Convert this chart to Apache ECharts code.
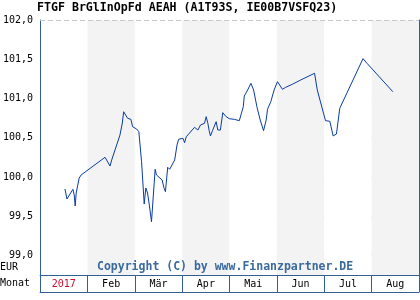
<!DOCTYPE html>
<html><head><meta charset="utf-8">
<script src="https://cdn.jsdelivr.net/npm/echarts@6/dist/echarts.min.js"></script>
<style>html,body{margin:0;padding:0;background:#fff}#c{width:420px;height:300px}</style>
</head><body><div id="c"></div>
<script>
const titleText = 'FTGF BrGlInOpFd AEAH (A1T93S, IE00B7VSFQ23)';
const months = ['2017','Feb','Mär','Apr','Mai','Jun','Jul','Aug'];
const yTicks = [99.0, 99.5, 100.0, 100.5, 101.0, 101.5, 102.0];
const monthPos = [0.525,0.567,0.693,0.720,0.741,0.762,0.825,0.867,1.371,1.476,1.512,1.686,1.736,1.764,1.791,1.848,1.917,1.953,1.988,2.037,2.085,2.142,2.198,2.232,2.268,2.303,2.352,2.394,2.429,2.457,2.576,2.618,2.646,2.694,2.736,2.841,2.891,2.925,3.017,3.051,3.087,3.261,3.297,3.332,3.387,3.471,3.507,3.542,3.570,3.597,3.639,3.717,3.752,3.807,3.857,3.927,3.996,4.101,4.206,4.241,4.290,4.311,4.382,4.451,4.472,4.508,4.577,4.647,4.718,4.773,4.802,4.871,4.941,5.012,5.046,5.117,5.186,5.327,5.501,5.795,5.852,6.026,6.117,6.188,6.257,6.327,6.818,6.902,7.448];
const values = [99.846,99.719,99.842,99.770,99.629,99.795,99.986,100.025,100.250,100.139,100.216,100.534,100.687,100.831,100.815,100.747,100.734,100.640,100.649,100.611,100.576,100.194,99.655,99.859,99.795,99.655,99.429,99.795,100.097,100.025,99.961,99.855,99.812,100.123,100.097,100.216,100.407,100.480,100.492,100.436,100.513,100.632,100.649,100.598,100.662,100.683,100.768,100.683,100.589,100.522,100.589,100.704,100.598,100.598,100.819,100.768,100.742,100.734,100.717,100.734,100.895,101.031,101.108,101.193,101.201,101.108,100.895,100.726,100.589,100.726,100.862,100.959,101.108,101.214,101.193,101.117,101.142,101.181,101.235,101.321,101.108,100.717,100.709,100.522,100.547,100.875,101.507,101.448,101.086];

const axisColor = '#2f5f99';
const gridColor = '#c8c8c8';
const mono = '"DejaVu Sans Mono", monospace';
const data = monthPos.map((x, i) => [x, values[i]]);

const chart = echarts.init(document.getElementById('c'), null, {renderer: 'canvas'});
chart.setOption({
  animation: false,
  backgroundColor: '#fff',
  grid: {left: 37, right: 1, top: 20, bottom: 25, containLabel: false},
  xAxis: [
    {type: 'category', data: months, boundaryGap: true, position: 'bottom',
     axisLine: {show: true, lineStyle: {color: axisColor, width: 1}},
     axisTick: {show: true, interval: 0, length: 17, lineStyle: {color: axisColor, width: 1}},
     axisLabel: {interval: 0, margin: 4, fontFamily: mono, fontSize: 10,
       color: (v, i) => (i === 0 ? '#c8102e' : '#000')},
     splitLine: {show: false},
     splitArea: {show: true, interval: 0, areaStyle: {color: ['#ffffff', '#f3f3f3']}}},
    {type: 'value', min: 0, max: 8, show: false},
    {type: 'category', data: months, position: 'bottom', offset: 17,
     axisLine: {show: true, lineStyle: {color: axisColor, width: 1}},
     axisTick: {show: false}, axisLabel: {show: false}, splitLine: {show: false}}
  ],
  yAxis: [
    {type: 'value', min: 98.75, max: 102, interval: 0.25,
     axisLine: {show: true, lineStyle: {color: axisColor, width: 1}},
     axisTick: {show: false},
     axisLabel: {margin: 7, fontFamily: mono, fontSize: 10, color: '#000',
       formatter: v => (yTicks.some(t => Math.abs(t - v) < 1e-6) ? v.toFixed(1).replace('.', ',') : '')},
     splitLine: {show: true, showMinLine: true, showMaxLine: true,
       lineStyle: {type: [5, 3], color: ['rgba(0,0,0,0)', gridColor], width: 1}}},
    {type: 'value', min: 98.75, max: 102, position: 'right',
     axisLine: {show: true, lineStyle: {color: axisColor, width: 1}},
     axisTick: {show: false}, axisLabel: {show: false}, splitLine: {show: false}}
  ],
  series: [{
    type: 'line', xAxisIndex: 1, yAxisIndex: 0, data: data,
    showSymbol: false, symbol: 'none', z: 5,
    lineStyle: {color: '#0a3ca0', width: 1},
    markLine: {silent: true, symbol: 'none', label: {show: false}, z: 1,
      lineStyle: {type: [5, 3], color: gridColor, width: 1},
      data: [{yAxis: yTicks[yTicks.length - 1]}]}
  }],
  graphic: [
    {type: 'text', left: 37, top: 2, z: 100, style: {text: titleText, font: 'bold 11.6px ' + mono, fill: '#000'}},
    {type: 'text', left: 0, top: 262, z: 100, style: {text: 'EUR', font: '10px ' + mono, fill: '#000'}},
    {type: 'text', left: 0, top: 278, z: 100, style: {text: 'Monat', font: '10px ' + mono, fill: '#000'}},
    {type: 'text', left: 97, top: 261, z: 100, style: {text: 'Copyright (C) by www.Finanzpartner.DE', font: 'bold 11.5px ' + mono, fill: '#3a6a9e'}}
  ]
});
</script></body></html>
